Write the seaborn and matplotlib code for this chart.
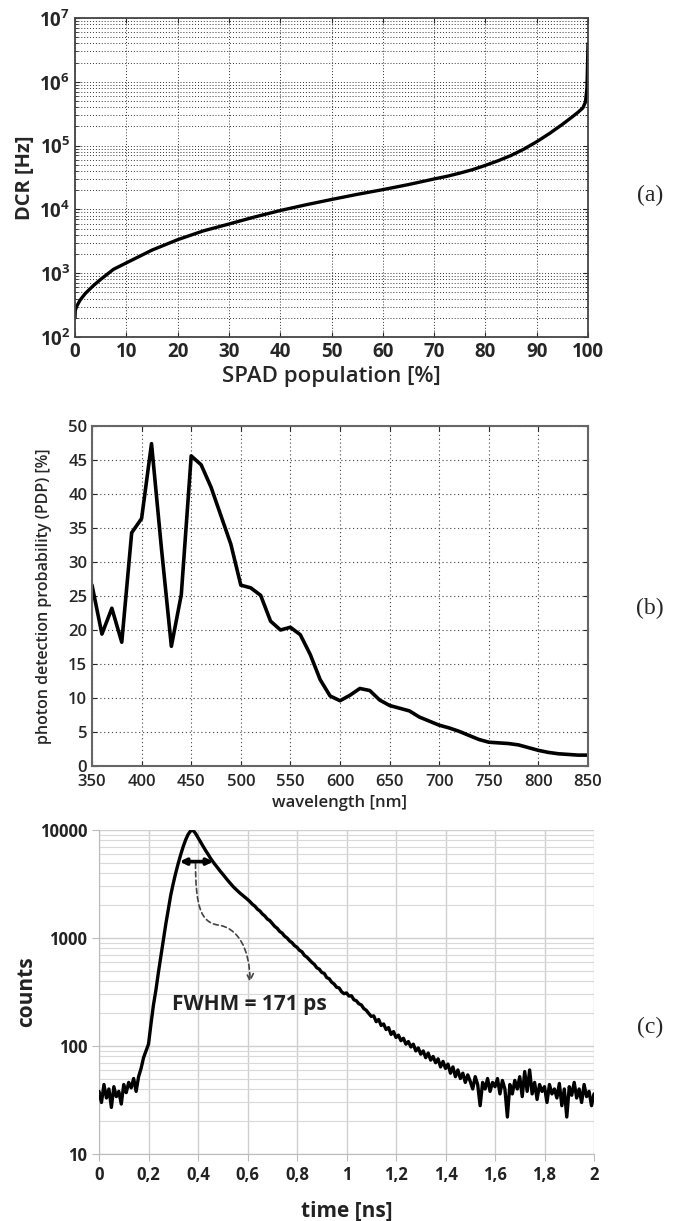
import numpy as np
import matplotlib.pyplot as plt
import seaborn as sns
from matplotlib.path import Path
from matplotlib.patches import FancyArrowPatch
from matplotlib.ticker import LogLocator, NullFormatter


# (a) dark count rate over the SPAD population
spad_pct = [0, 0.05, 0.3, 1, 2, 3.5, 5, 7.5, 10, 15, 20, 25, 30, 35, 40, 45, 50,
            55, 60, 65, 70, 72.5, 75, 77.5, 80, 82.5, 85, 87.5, 90, 92.5, 95,
            97, 98, 99, 99.5, 99.8, 100]
dcr_hz = [200, 260, 300, 380, 480, 630, 800, 1150, 1450, 2300, 3350, 4600, 5900,
          7600, 9600, 11800, 14300, 17200, 20400, 24500, 30000, 33000, 37000,
          42000, 49000, 58000, 70000, 88000, 115000, 155000, 215000, 285000,
          330000, 390000, 480000, 800000, 4000000]
dcr_ticks = [1e2, 1e3, 1e4, 1e5, 1e6, 1e7]

# (b) photon detection probability spectrum
wavelength_nm = list(range(350, 851, 10))
pdp_pct = [26.6, 19.4, 23.2, 18.2, 34.3, 36.4, 47.4, 32.0, 17.6, 25.2,
           45.6, 44.3, 41.0, 36.8, 32.6, 26.6, 26.2, 25.1, 21.3, 20.0,
           20.4, 19.3, 16.4, 12.7, 10.3, 9.6, 10.4, 11.4, 11.1, 9.7,
           8.9, 8.5, 8.1, 7.2, 6.6, 6.0, 5.6, 5.1, 4.5, 3.9,
           3.5, 3.4, 3.3, 3.1, 2.7, 2.3, 2.0, 1.8, 1.7, 1.6, 1.6]

# (c) timing response histogram, 10 ps bins
time_ns = [round(i * 0.01, 2) for i in range(201)]
counts = [38, 30, 44, 33, 40, 27, 42, 34, 38, 29, 44, 37, 46, 41, 50, 38, 52,
          62, 78, 90, 104, 160, 240, 330, 480, 680, 950, 1350, 1850, 2500, 3200,
          4000, 4900, 5900, 7000, 8100, 9100, 9800, 9950, 9300, 8500, 7800, 7100,
          6500, 6000, 5500, 5100, 4750, 4450, 4150, 3900,
          3650, 3420, 3220, 3030, 2870, 2730, 2600, 2490, 2380, 2280,
          2170, 2050, 1970, 1850, 1780, 1670, 1600, 1500, 1450, 1360,
          1280, 1230, 1150, 1110, 1040, 1000, 940, 905, 850, 820,
          770, 745, 690, 665, 630, 595, 570, 530, 515, 480,
          470, 430, 420, 390, 375, 350, 345, 318, 305,
          310, 290, 292, 268, 262, 246, 240, 222, 214, 200,
          188, 190, 168, 176, 155, 160, 142, 148, 128, 136,
          120, 126, 112, 118, 104, 110, 98, 104, 90, 96,
          84, 90, 78, 86, 74, 80, 70, 76, 64, 72,
          62, 68, 56, 64, 52, 60, 50, 56, 46, 54,
          47, 40, 52, 44, 28, 46, 40, 50, 38, 46,
          42, 50, 36, 48, 40, 22, 44, 36, 48, 40,
          52, 34, 58, 38, 60, 36, 46, 32, 44, 38,
          42, 30, 44, 36, 40, 33, 45, 28, 40, 22,
          42, 35, 46, 33, 40, 30, 44, 34, 38, 28, 36]
time_ticks = [0, 0.2, 0.4, 0.6, 0.8, 1.0, 1.2, 1.4, 1.6, 1.8, 2.0]
time_labels = ['0', '0,2', '0,4', '0,6', '0,8', '1', '1,2', '1,4', '1,6', '1,8', '2']
count_ticks = [10, 100, 1000, 10000]

sns.set_style('ticks')
plt.rcParams['font.family'] = ['Open Sans', 'DejaVu Sans']
plt.rcParams['mathtext.fontset'] = 'custom'
plt.rcParams['mathtext.bf'] = 'Open Sans:bold'
plt.rcParams['mathtext.rm'] = 'Open Sans'

W, H = 684, 1221
fig = plt.figure(figsize=(W / 100, H / 100), dpi=100)


def box(l, t, r, b):
    return [l / W, 1 - b / H, (r - l) / W, (b - t) / H]


# ---------- (a) ----------
ax1 = fig.add_axes(box(75, 18, 588, 337))
sns.lineplot(x=spad_pct, y=dcr_hz, ax=ax1, color='black', linewidth=2.4)
ax1.set_yscale('log')
ax1.set_xlim(0, 100)
ax1.set_ylim(1e2, 1e7)
ax1.set_xticks(range(0, 101, 10))
ax1.set_yticks(dcr_ticks)
ax1.set_yticklabels([r'$\mathbf{10^{%d}}$' % round(np.log10(v)) for v in dcr_ticks])
ax1.yaxis.set_minor_locator(LogLocator(base=10, subs=range(2, 10)))
ax1.yaxis.set_minor_formatter(NullFormatter())
ax1.grid(True, which='both', axis='y', linestyle=(0, (1, 2)), color='#333333', linewidth=0.7)
ax1.grid(True, which='major', axis='x', linestyle=(0, (1, 2)), color='#333333', linewidth=0.7)
ax1.tick_params(which='both', direction='in', top=True, right=True, labelsize=13.5)
ax1.tick_params(which='minor', length=2)
for lab in ax1.get_xticklabels():
    lab.set_fontweight('bold')
for s in ax1.spines.values():
    s.set_color('#444444')
    s.set_linewidth(1.3)
ax1.set_xlabel('SPAD population [%]', fontsize=16, fontweight='semibold')
ax1.set_ylabel('DCR [Hz]', fontsize=14.5, fontweight='bold')
ax1.xaxis.set_label_coords(0.5, -0.09)
ax1.yaxis.set_label_coords(-0.078, 0.5)

# ---------- (b) ----------
ax2 = fig.add_axes(box(92, 426, 588, 766))
sns.lineplot(x=wavelength_nm, y=pdp_pct, ax=ax2, color='black', linewidth=2.6)
ax2.lines[0].set_solid_joinstyle('round')
ax2.set_xlim(350, 850)
ax2.set_ylim(0, 50)
ax2.set_xticks(range(350, 851, 50))
ax2.set_yticks(range(0, 51, 5))
ax2.grid(True, linestyle=(0, (1, 2.5)), color='#444444', linewidth=0.8)
ax2.tick_params(direction='in', top=True, right=True, labelsize=12)
ax2.tick_params(axis='x', pad=6)
for lab in ax2.get_xticklabels() + ax2.get_yticklabels():
    lab.set_fontweight('semibold')
for s in ax2.spines.values():
    s.set_color('#666666')
    s.set_linewidth(1.5)
ax2.set_xlabel('wavelength [nm]', fontsize=12, fontweight='semibold')
ax2.set_ylabel('photon detection probability (PDP) [%]', fontsize=11.5, fontweight='semibold')
ax2.xaxis.set_label_coords(0.5, -0.085)
ax2.yaxis.set_label_coords(-0.08, 0.5)

# ---------- (c) ----------
ax3 = fig.add_axes(box(99, 830, 594, 1154))
sns.lineplot(x=time_ns, y=counts, ax=ax3, color='black', linewidth=2.4, zorder=3)
ax3.set_yscale('log')
ax3.set_xlim(0, 2)
ax3.set_ylim(10, 10000)
ax3.set_xticks(time_ticks)
ax3.set_xticklabels(time_labels)
ax3.set_yticks(count_ticks)
ax3.set_yticklabels([str(v) for v in count_ticks])
ax3.yaxis.set_minor_locator(LogLocator(base=10, subs=range(2, 10)))
ax3.yaxis.set_minor_formatter(NullFormatter())
ax3.grid(True, which='major', color='#cfcfcf', linewidth=1.0)
ax3.grid(True, which='minor', axis='y', color='#d9d9d9', linewidth=0.8)
ax3.tick_params(which='major', direction='out', length=5, color='#bbbbbb', labelsize=12)
ax3.tick_params(which='minor', length=0)
for lab in ax3.get_xticklabels() + ax3.get_yticklabels():
    lab.set_fontweight('bold')
    lab.set_color('#222222')
ax3.spines['top'].set_visible(False)
ax3.spines['right'].set_visible(False)
ax3.spines['left'].set_color('#bbbbbb')
ax3.spines['bottom'].set_color('#bbbbbb')
ax3.set_xlabel('time [ns]', fontsize=15, fontweight='bold', color='#222222')
ax3.set_ylabel('counts', fontsize=15, fontweight='bold', color='#222222')
ax3.xaxis.set_label_coords(0.5, -0.142)
ax3.yaxis.set_label_coords(-0.125, 0.5)

# FWHM marker and dashed pointer
ax3.annotate('', xy=(0.326, 5100), xytext=(0.462, 5100),
             arrowprops=dict(arrowstyle='<|-|>', lw=2.6, color='black',
                             mutation_scale=9, shrinkA=0, shrinkB=0), zorder=4)
verts = [(0.39, 4900), (0.39, 2000), (0.41, 1400), (0.48, 1320),
         (0.56, 1250), (0.61, 800), (0.61, 390)]
codes = [Path.MOVETO] + [Path.CURVE4] * 6
pointer = FancyArrowPatch(path=Path(verts, codes), arrowstyle='->', mutation_scale=12,
                          linestyle=(0, (3, 2)), color='#444444', lw=1.2)
ax3.add_patch(pointer)
ax3.text(0.606, 240, 'FWHM = 171 ps', fontsize=15, fontweight='bold',
         ha='center', va='center', color='#222222')

# panel letters
for label, y in [('(a)', 195), ('(b)', 608), ('(c)', 1027)]:
    fig.text(650 / W, 1 - y / H, label, ha='center', va='center',
             fontsize=17, family='Liberation Serif')

plt.savefig('out.png', dpi=100)
